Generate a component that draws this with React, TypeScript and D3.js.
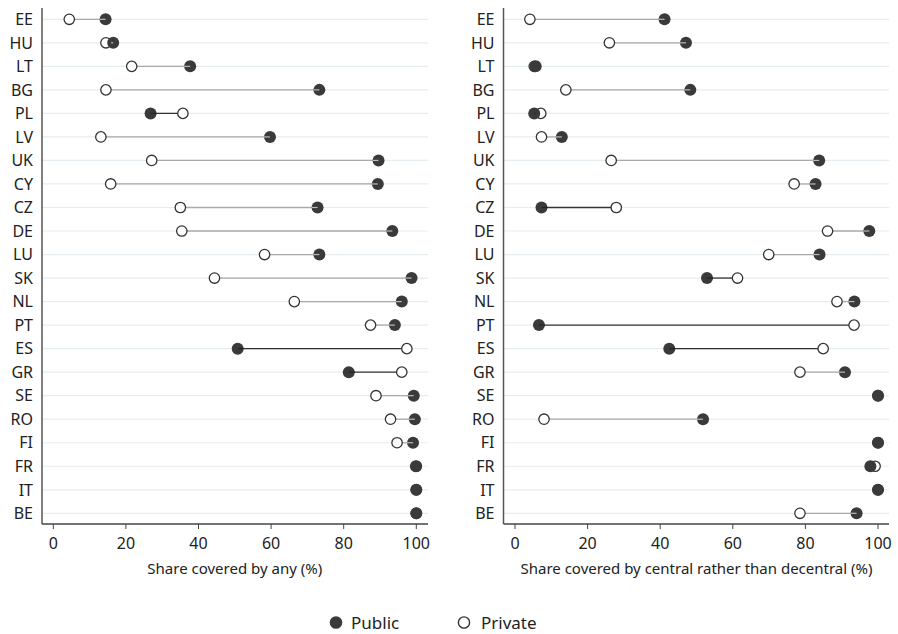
import React from "react";
import * as d3 from "d3";

const countries = ["EE","HU","LT","BG","PL","LV","UK","CY","CZ","DE","LU","SK","NL","PT","ES","GR","SE","RO","FI","FR","IT","BE"];
const anyPublic = [14.4,16.5,37.7,73.3,26.8,59.7,89.6,89.4,72.8,93.4,73.3,98.7,96.0,94.1,50.8,81.4,99.3,99.6,99.1,99.9,100,100];
const anyPrivate = [4.4,14.5,21.6,14.5,35.7,13.1,27.1,15.8,35.0,35.4,58.2,44.4,66.4,87.4,97.4,96.0,88.9,92.9,94.7,100,100,100];
const centralPublic = [41.2,47.1,5.7,48.3,5.3,12.9,83.8,82.8,7.3,97.6,83.9,52.9,93.5,6.6,42.5,90.9,100,51.8,100,97.9,100,94.1];
const centralPrivate = [4.1,26.0,5.3,14.0,7.1,7.3,26.5,76.9,27.9,86.1,69.9,61.3,88.7,93.4,84.9,78.5,100,8.0,100,99.2,100,78.5];
const xTicks = [0,20,40,60,80,100];
const titles = ["Share covered by any (%)", "Share covered by central rather than decentral (%)"];

const FONT = "'Noto Sans', 'Open Sans', sans-serif";
const DARK = "#3a3a3a";
const RP = 6;
const RV = 5.2;

function Panel({ x0, axisX, gridEnd, pub, priv, title }: any) {
  const x = d3.scaleLinear().domain([0, 100]).range([x0, x0 + 363]);
  const y = d3.scalePoint().domain(countries).range([19.3, 513.3]);
  const axisBottom = 524;
  const lineColor = (i: number) => (priv[i] > pub[i] ? "#333" : "#aaa");
  return (
    <g>
      {countries.map((c) => (
        <line key={"g" + c} x1={axisX} x2={gridEnd} y1={y(c)} y2={y(c)} stroke="#e6edf0" strokeWidth={1.2} />
      ))}
      {countries.map((c, i) => (
        <line key={"l" + c} x1={x(pub[i])} x2={x(priv[i])} y1={y(c)} y2={y(c)} stroke={lineColor(i)} strokeWidth={1.3} />
      ))}
      {countries.map((c, i) => (
        <circle key={"v" + c} cx={x(priv[i])} cy={y(c)} r={RV} fill="#fff" stroke="#333" strokeWidth={1.3} />
      ))}
      {countries.map((c, i) => (
        <circle key={"p" + c} cx={x(pub[i])} cy={y(c)} r={RP} fill={DARK} />
      ))}
      {countries.map((c, i) => {
        const a = x(pub[i]);
        const b = x(priv[i]);
        const d = Math.abs(b - a);
        if (d <= RV + 0.5) return null;
        const end = b > a ? Math.min(b - RV, a + RP) : Math.max(b + RV, a - RP);
        return <line key={"s" + c} x1={a} x2={end} y1={y(c)} y2={y(c)} stroke={lineColor(i) === "#333" ? "#222" : "#bbb"} strokeWidth={1.2} />;
      })}
      <line x1={axisX} x2={axisX} y1={8} y2={axisBottom} stroke="#555" strokeWidth={1.5} />
      <line x1={axisX} x2={gridEnd} y1={axisBottom} y2={axisBottom} stroke="#444" strokeWidth={1.3} />
      {countries.map((c) => (
        <text key={"t" + c} x={axisX - 9} y={y(c)} dy="0.36em" textAnchor="end" fontSize={16} fontFamily={FONT} fill="#222">{c}</text>
      ))}
      {xTicks.map((t) => (
        <g key={"x" + t}>
          <line x1={x(t)} x2={x(t)} y1={axisBottom} y2={axisBottom + 5} stroke="#444" strokeWidth={1} />
          <text x={x(t)} y={axisBottom + 19} dy="0.36em" textAnchor="middle" fontSize={16} fontFamily={FONT} fill="#222">{t}</text>
        </g>
      ))}
      <text x={(x0 + x0 + 363) / 2} y={569} dy="0.36em" textAnchor="middle" fontSize={15} fontFamily={FONT} fill="#222">{title}</text>
    </g>
  );
}

export default function App() {
  return (
    <svg width={898} height={634} style={{ position: "absolute", left: 0, top: 0, background: "#fff" }}>
      <rect width={898} height={634} fill="#fff" />
      <Panel x0={53.3} axisX={42} gridEnd={428} pub={anyPublic} priv={anyPrivate} title={titles[0]} />
      <Panel x0={515} axisX={503.5} gridEnd={889} pub={centralPublic} priv={centralPrivate} title={titles[1]} />
      <circle cx={336} cy={622.5} r={6.3} fill={DARK} />
      <text x={351} y={622.5} dy="0.36em" fontSize={17} fontFamily={FONT} fill="#222">Public</text>
      <circle cx={464} cy={622.5} r={5.6} fill="#fff" stroke="#333" strokeWidth={1.4} />
      <text x={481} y={622.5} dy="0.36em" fontSize={17} fontFamily={FONT} fill="#222">Private</text>
    </svg>
  );
}
